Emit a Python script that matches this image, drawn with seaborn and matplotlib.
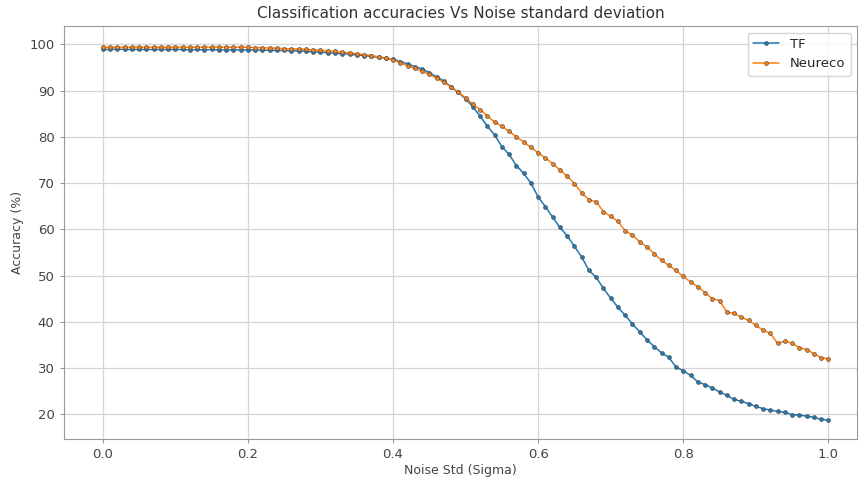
import numpy as np
import pandas as pd
import seaborn as sns
import matplotlib
matplotlib.use("Agg")
import matplotlib.pyplot as plt

# noise std values, step 0.01
sigma = np.round(np.arange(0, 101) / 100, 2)

tf_acc = [
    98.9, 98.9, 99.0, 98.9, 98.9, 98.9, 98.9, 98.9, 98.9, 98.9,
    98.9, 98.9, 98.8, 98.9, 98.8, 98.9, 98.8, 98.8, 98.8, 98.8,
    98.8, 98.8, 98.8, 98.7, 98.7, 98.7, 98.6, 98.6, 98.5, 98.4,
    98.3, 98.2, 98.1, 98.0, 97.9, 97.7, 97.6, 97.4, 97.2, 97.0,
    96.8, 96.3, 95.8, 95.2, 94.7, 93.9, 93.0, 92.1, 90.8, 89.6,
    88.2, 86.5, 84.5, 82.3, 80.4, 77.9, 76.2, 73.8, 72.1, 70.0,
    67.0, 64.9, 62.6, 60.4, 58.6, 56.3, 54.0, 51.1, 49.6, 47.2,
    45.1, 43.1, 41.4, 39.5, 37.8, 36.1, 34.6, 33.3, 32.3, 30.2,
    29.4, 28.4, 27.0, 26.4, 25.7, 24.8, 24.1, 23.2, 22.8, 22.3,
    21.7, 21.2, 20.9, 20.6, 20.4, 19.9, 19.8, 19.6, 19.3, 18.9,
    18.7,
]

neureco_acc = [
    99.4, 99.4, 99.4, 99.4, 99.4, 99.4, 99.4, 99.4, 99.4, 99.4,
    99.4, 99.4, 99.4, 99.4, 99.4, 99.4, 99.4, 99.4, 99.4, 99.4,
    99.4, 99.3, 99.3, 99.2, 99.2, 99.1, 99.0, 99.0, 98.9, 98.8,
    98.7, 98.6, 98.5, 98.3, 98.2, 98.0, 97.8, 97.6, 97.3, 97.0,
    96.7, 96.0, 95.4, 94.8, 94.2, 93.5, 92.7, 91.8, 90.8, 89.7,
    88.4, 87.1, 85.9, 84.5, 83.2, 82.3, 81.2, 80.0, 78.9, 77.7,
    76.6, 75.4, 74.2, 72.8, 71.5, 69.9, 67.9, 66.4, 66.0, 63.8,
    62.8, 61.7, 59.7, 58.7, 57.3, 56.2, 54.7, 53.3, 52.2, 51.1,
    49.8, 48.6, 47.6, 46.3, 45.0, 44.6, 42.1, 41.8, 41.0, 40.3,
    39.2, 38.2, 37.5, 35.3, 35.8, 35.4, 34.4, 34.0, 33.1, 32.2,
    32.0,
]

models = ["TF", "Neureco"]

df = pd.concat([
    pd.DataFrame({"sigma": sigma, "acc": tf_acc, "model": models[0]}),
    pd.DataFrame({"sigma": sigma, "acc": neureco_acc, "model": models[1]}),
], ignore_index=True)

sns.set_style("white")
plt.rcParams["font.family"] = ["DejaVu Sans"]

fig, ax = plt.subplots(figsize=(8.6, 4.8), dpi=100)
sns.lineplot(data=df, x="sigma", y="acc", hue="model", hue_order=models,
             palette=["#1f77b4", "#ff7f0e"], marker="o", markersize=2.8,
             markeredgewidth=0.5, markeredgecolor="#555555", linewidth=1.1,
             ax=ax)

ax.set_xlim(-0.054, 1.04)
ax.set_ylim(14.7, 104.0)
ax.set_xticks([0.0, 0.2, 0.4, 0.6, 0.8, 1.0])
ax.set_yticks(range(20, 101, 10))
ax.grid(True, color="#d4d4d4", linewidth=0.9)
for s in ax.spines.values():
    s.set_color("#999999")
ax.tick_params(colors="#444444", labelsize=9.5, length=3, color="#999999",
               left=True, bottom=True)

ax.set_title("Classification accuracies Vs Noise standard deviation",
             fontsize=11, color="#333333")
ax.set_xlabel("Noise Std (Sigma)", fontsize=9, color="#444444", labelpad=2)
ax.set_ylabel("Accuracy (%)", fontsize=9, color="#444444")
ax.legend(title=None, loc="upper right", fontsize=9.5, frameon=True)

plt.subplots_adjust(left=0.074, right=0.997, top=0.946, bottom=0.086)
plt.savefig("out.png", dpi=100)
